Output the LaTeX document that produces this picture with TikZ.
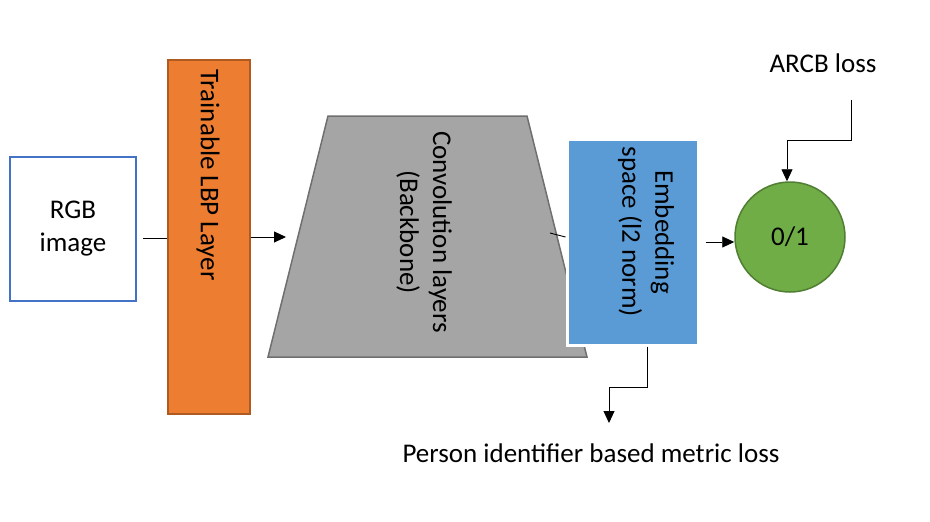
\documentclass[tikz,border=0pt]{standalone}
\usepackage{fontspec}
\setmainfont{Carlito}
\usetikzlibrary{arrows.meta,positioning,calc}
\definecolor{rgbblue}{HTML}{4472C4}
\definecolor{lbporange}{HTML}{ED7D31}
\definecolor{lbpedge}{HTML}{AE5A21}
\definecolor{convgray}{HTML}{A5A5A5}
\definecolor{convedge}{HTML}{6F6F6F}
\definecolor{embblue}{HTML}{5B9BD5}
\definecolor{outgreen}{HTML}{70AD47}
\definecolor{outedge}{HTML}{507E32}

\begin{document}
\begin{tikzpicture}[
 x=1pt,y=-1pt,
 every node/.style={font=\fontsize{27}{33}\selectfont,inner sep=0pt},
 box/.style={rectangle,line width=1.5pt},
 arr/.style={-{Triangle[length=12pt,width=11pt]},line width=0.9pt},
 wire/.style={line width=0.9pt}]
\useasboundingbox (0,0) rectangle (930,522);
% blocks
\node[box,draw=rgbblue,fill=white,minimum width=126pt,minimum height=144pt,align=center] (rgb) at (73,229) {RGB\\image};
\node[box,draw=lbpedge,fill=lbporange,minimum width=82pt,minimum height=354pt] (lbp) at (209,237) {};
\node[rotate=-90] (lbptext) at (208,175) {Trainable LBP Layer};
\draw[fill=convgray,draw=convedge,line width=1.5pt] (328,116) -- (527,116) -- (587,357) -- (268,357) -- cycle;
\node[rotate=-90,align=center] (conv) at (424,232) {Convolution layers\\(Backbone)};
\node[box,draw=white,line width=3pt,fill=embblue,minimum width=131pt,minimum height=206pt] (emb) at (632.5,242) {};
\node[rotate=-90,align=center] (embtext) at (646,232) {Embedding\\space (l2 norm)};
\node[circle,draw=outedge,fill=outgreen,line width=1.5pt,minimum size=110pt] (out) at (790,237) {0/1};
\node (arcb) at (823,63) {ARCB loss};
\node (pers) at (591,453) {Person identifier based metric loss};
% connectors
\coordinate (convin) at (286,237);
\coordinate (convout) at (550,233);
\coordinate (arcbout) at (851,100);
\coordinate (persin) at (609,423);
\draw[wire] ([xshift=6pt,yshift=-9pt]rgb.east) coordinate (rgbout) -- (rgbout -| lbp.west);
\draw[arr] (lbp.east) -- (convin);
\draw[wire] (convout) -- ([yshift=5pt]emb.west);
\draw[arr] ([xshift=6pt]emb.east) -- ([yshift=-5pt]out.west);
\draw[arr] (arcbout) -- ++(0,40) -| ([xshift=-3pt]out.north);
\draw[arr] ([xshift=14.5pt]emb.south) -- ++(0,41) -| (persin);
\end{tikzpicture}
\end{document}
